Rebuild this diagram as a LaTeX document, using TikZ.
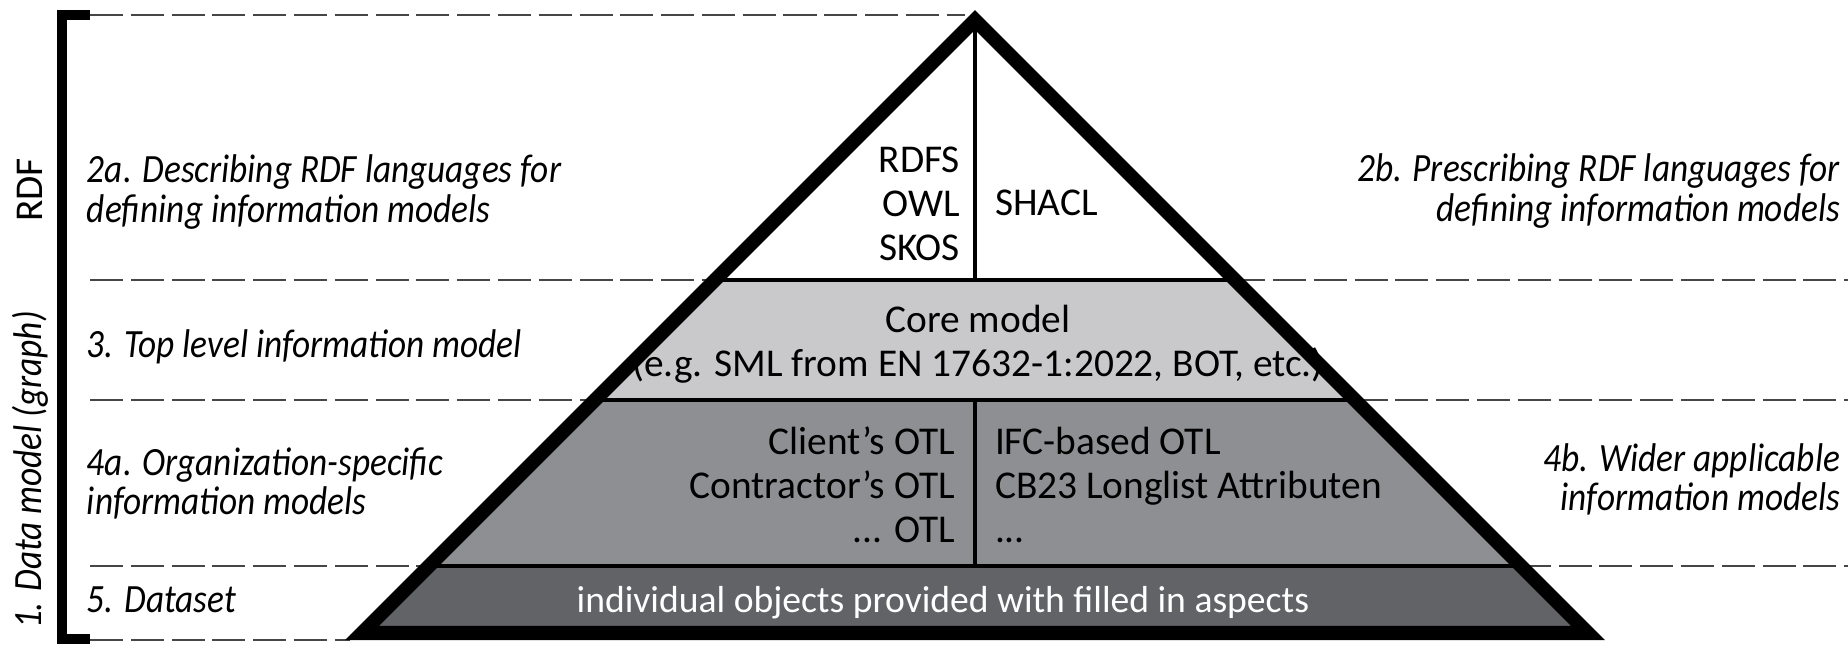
\documentclass[tikz,border=0pt]{standalone}
\usepackage{fontspec}
\setmainfont{Carlito}
\newfontfamily\sidefont{Carlito}[FakeStretch=0.88]
\usepackage{tikz}
\usetikzlibrary{positioning,calc}
\definecolor{guidegray}{RGB}{70,70,70}
\definecolor{coregray}{RGB}{201,201,203}
\definecolor{otlgray}{RGB}{142,143,146}
\definecolor{datagray}{RGB}{98,99,102}

\begin{document}
\begin{tikzpicture}[x=0.01cm, y=-0.01cm, every node/.style={inner sep=0pt, outer sep=0pt},
      side/.style={font=\sidefont\itshape\fontsize{11.4}{11.1}\selectfont},
      txt/.style={font=\fontsize{11.2}{12.5}\selectfont},
      guide/.style={guidegray, line width=0.7pt, dash pattern=on 9.4pt off 2.2pt},
      bracket/.style={line width=2.6pt, line join=miter},
      layer/.style={line width=1.4pt},
      divider/.style={line width=1.1pt},
      outline/.style={line width=4pt, line join=miter}]
    \useasboundingbox (0,0) rectangle (1848,644);
    \coordinate (apex) at (975,20);
    \coordinate (l1) at (715,280); \coordinate (r1) at (1235,280);
    \coordinate (l2) at (595,400); \coordinate (r2) at (1355,400);
    \coordinate (l3) at (429,566); \coordinate (r3) at (1521,566);
    \coordinate (bl) at (362,633); \coordinate (br) at (1588,633);
    \coordinate (m1) at (975,280); \coordinate (m2) at (975,400); \coordinate (m3) at (975,566);
    \coordinate (tl) at (90,15); \coordinate (tr) at (965,15);
    \coordinate (bb) at (90,640); \coordinate (be) at (350,640);

    \draw[guide] (tl) -- (tr);
    \draw[guide] (90,280) -- (1848,280);
    \draw[guide] (90,400) -- (1848,400);
    \draw[guide] (90,566) -- (1848,566);
    \draw[guide] (bb) -- (be);
    \draw[bracket] (tl) -- (62,15) -- (62,639) -- (90,639);

    \fill[white] (apex) -- (r1) -- (l1) -- cycle;
    \fill[coregray] (l1) -- (r1) -- (r2) -- (l2) -- cycle;
    \fill[otlgray] (l2) -- (r2) -- (r3) -- (l3) -- cycle;
    \fill[datagray] (l3) -- (r3) -- (br) -- (bl) -- cycle;
    \draw[layer] (l1) -- (r1) (l2) -- (r2) (l3) -- (r3);
    \draw[divider] (apex) -- (m1) (m2) -- (m3);
    \draw[outline] (apex) -- (br) -- (bl) -- cycle;

    \node[txt, rotate=90] (rdf) at (30,190) {RDF};
    \node[side, rotate=90] (dm) at (30,470) {1. Data model (graph)};
    \node[side, align=left, anchor=west] (desc) at (87,192) {2a. Describing RDF languages for\\defining information models};
    \node[side, anchor=west] (toplvl) at (87,347) {3. Top level information model};
    \node[side, align=left, anchor=west] (org) at (87,483) {4a. Organization-specific\\information models};
    \node[side, anchor=west] (dset) at (87,600) {5. Dataset};
    \node[side, align=right, anchor=east] (presc) at (1840,191) {2b. Prescribing RDF languages for\\defining information models};
    \node[side, align=right, anchor=east] (wider) at (1840,479) {4b. Wider applicable\\information models};

    \node[txt, align=right, anchor=east] (rdfs) at (960,204) {RDFS\\OWL\\SKOS};
    \node[txt, anchor=west] (shacl) at (995,203) {SHACL};
    \node[txt, align=center] (core) at (978,344) {Core model\\(e.g. SML from EN 17632-1:2022, BOT, etc.)};
    \node[txt, align=right, anchor=east] (client) at (955,485) {Client's OTL\\Contractor's OTL\\... OTL};
    \node[txt, align=left, anchor=west] (ifc) at (995,485) {IFC-based OTL\\CB23 Longlist Attributen\\...};
    \node[txt, white, font=\fontsize{10.7}{12.5}\selectfont] (objects) at (943,603) {individual objects provided with filled in aspects};
\end{tikzpicture}
\end{document}
